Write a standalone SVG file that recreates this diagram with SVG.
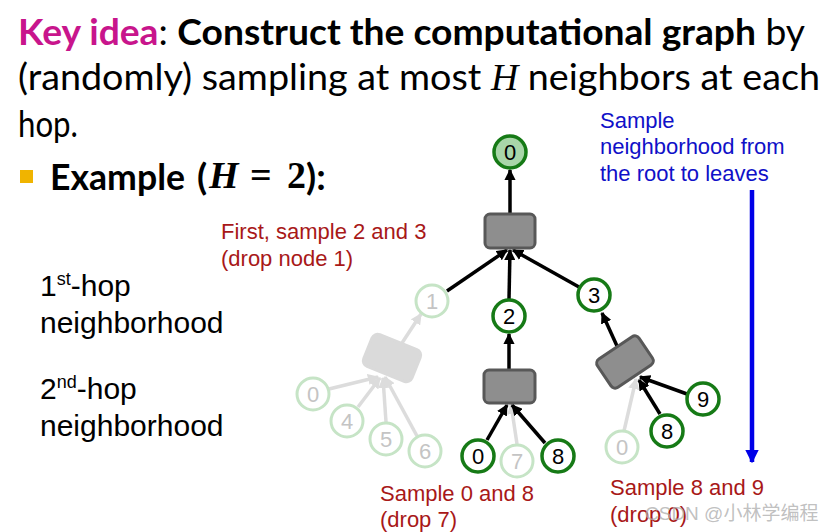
<svg xmlns="http://www.w3.org/2000/svg" width="830" height="532" viewBox="0 0 830 532">
<defs>
<style>
.title{font-family:Lato,"Open Sans",sans-serif;font-size:37px;fill:#000}
.b{font-weight:bold}
.math{font-family:"Liberation Serif","DejaVu Serif",serif;font-weight:bold;font-size:38px}
.blue{font-family:"Liberation Sans",Arial,sans-serif;font-size:22px;fill:#1010c8}
.red{font-family:"Liberation Sans",Arial,sans-serif;font-size:22px;fill:#a81818}
.side{font-family:"Liberation Sans",Arial,sans-serif;font-size:30px;fill:#000}
.sup{font-size:18px}
.node circle{fill:#fff;stroke:#167a16;stroke-width:3.5}
.node text{font-family:"Liberation Sans",Arial,sans-serif;font-size:22px;fill:#000;text-anchor:middle}
.faded circle{fill:#fff;stroke:#c6e4c6;stroke-width:3}
.faded text{font-family:"Liberation Sans",Arial,sans-serif;font-size:22px;fill:#c4c4c4;text-anchor:middle}
.box rect{fill:#8e8e8e;stroke:#585858;stroke-width:3}
.fbox rect{fill:#dadada;stroke:#dadada;stroke-width:3}
.e{stroke:#000;stroke-width:3.5;fill:none;marker-end:url(#ah)}
.fe{stroke:#dcdcdc;stroke-width:3.5;fill:none;marker-end:url(#fah)}
</style>
<marker id="ah" viewBox="0 0 10 10" refX="9" refY="5" markerWidth="3.2" markerHeight="3.2" orient="auto" markerUnits="strokeWidth">
<path d="M0,0 L10,5 L0,10 Z" fill="#000"/>
</marker>
<marker id="fah" viewBox="0 0 10 10" refX="9" refY="5" markerWidth="3.2" markerHeight="3.2" orient="auto" markerUnits="strokeWidth">
<path d="M0,0 L10,5 L0,10 Z" fill="#dcdcdc"/>
</marker>
<marker id="bah" viewBox="0 0 10 10" refX="9" refY="5" markerWidth="3" markerHeight="3" orient="auto" markerUnits="strokeWidth">
<path d="M0,0 L10,5 L0,10 Z" fill="#0000e8"/>
</marker>
</defs>

<g id="title">
<text class="title" x="18" y="45" textLength="787" lengthAdjust="spacingAndGlyphs"><tspan class="b" fill="#c8158c">Key idea</tspan>: <tspan class="b">Construct the computational graph</tspan> by</text>
<text class="title" x="18" y="90" textLength="802" lengthAdjust="spacingAndGlyphs">(randomly) sampling at most <tspan font-family="Liberation Serif,serif" font-style="italic">H</tspan> neighbors at each</text>
<text class="title" x="18" y="137" textLength="60" lengthAdjust="spacingAndGlyphs">hop.</text>
<rect x="20" y="170" width="13" height="13" fill="#f0b400"/>
<text class="title b" x="50" y="190" textLength="135" lengthAdjust="spacingAndGlyphs">Example</text>
<text class="title b" x="197" y="190">(</text>
<text class="math" x="209" y="188" font-style="italic">H</text>
<text class="math" x="250" y="188">=</text>
<text class="math" x="287" y="188">2</text>
<text class="title b" x="306" y="190">):</text>
</g>

<g id="side-labels">
<text class="side" x="40" y="296">1<tspan class="sup" dy="-11">st</tspan><tspan dy="11">-hop</tspan></text>
<text class="side" x="40" y="333">neighborhood</text>
<text class="side" x="40" y="399">2<tspan class="sup" dy="-11">nd</tspan><tspan dy="11">-hop</tspan></text>
<text class="side" x="40" y="436">neighborhood</text>
</g>

<g id="annotations">
<text class="blue" x="600" y="128">Sample</text>
<text class="blue" x="600" y="154">neighborhood from</text>
<text class="blue" x="600" y="181">the root to leaves</text>
<text class="red" x="221" y="239">First, sample 2 and 3</text>
<text class="red" x="221" y="266">(drop node 1)</text>
<text class="red" x="380" y="501">Sample 0 and 8</text>
<text class="red" x="380" y="527">(drop 7)</text>
<text class="red" x="610" y="495">Sample 8 and 9</text>
<text class="red" x="610" y="522">(drop 0)</text>
</g>

<g id="connectors">
<line class="fe" x1="402" y1="343" x2="421" y2="314"/>
<line class="fe" x1="329" y1="389" x2="378" y2="377"/>
<line class="fe" x1="358" y1="407" x2="380" y2="378"/>
<line class="fe" x1="386" y1="422" x2="383" y2="378"/>
<line class="fe" x1="417" y1="436" x2="385" y2="377"/>
<line class="fe" x1="517" y1="444" x2="511" y2="404"/>
<line class="fe" x1="624" y1="431" x2="636" y2="379"/>
<line class="e" x1="510" y1="213" x2="510" y2="170"/>
<line class="e" x1="447" y1="291" x2="507" y2="250"/>
<line class="e" x1="509" y1="299" x2="510" y2="250"/>
<line class="e" x1="579" y1="287" x2="513" y2="250"/>
<line class="e" x1="509" y1="369" x2="509" y2="334"/>
<line class="e" x1="487" y1="440" x2="507" y2="405"/>
<line class="e" x1="545" y1="443" x2="512" y2="405"/>
<line class="e" x1="617" y1="346" x2="602" y2="313"/>
<line class="e" x1="687" y1="394" x2="640" y2="377"/>
<line class="e" x1="660" y1="414" x2="639" y2="380"/>
<line x1="752" y1="190" x2="752" y2="462" stroke="#0000e8" stroke-width="4.5" marker-end="url(#bah)"/>
</g>

<g id="faded-box" class="fbox"><rect x="366" y="341" width="52" height="34" rx="6" transform="rotate(22 392 358)"/></g>
<g id="box-top" class="box"><rect x="485" y="214" width="50" height="34" rx="5"/></g>
<g id="box-2" class="box"><rect x="484" y="370" width="51" height="33" rx="5"/></g>
<g id="box-3" class="box"><rect x="600" y="345" width="50" height="34" rx="5" transform="rotate(-34 625 362)"/></g>

<g id="n0-root" class="node"><circle cx="510" cy="152" r="16" style="fill:#a9d6a9"/><text x="510" y="160">0</text></g>
<g id="n1" class="faded"><circle cx="432" cy="301" r="16"/><text x="432" y="309">1</text></g>
<g id="n2" class="node"><circle cx="509" cy="316" r="16"/><text x="509" y="324">2</text></g>
<g id="n3" class="node"><circle cx="594" cy="295" r="16"/><text x="594" y="303">3</text></g>
<g id="f0" class="faded"><circle cx="313" cy="394" r="16"/><text x="313" y="402">0</text></g>
<g id="f4" class="faded"><circle cx="347" cy="421" r="16"/><text x="347" y="429">4</text></g>
<g id="f5" class="faded"><circle cx="386" cy="439" r="16"/><text x="386" y="447">5</text></g>
<g id="f6" class="faded"><circle cx="425" cy="451" r="16"/><text x="425" y="459">6</text></g>
<g id="b0" class="node"><circle cx="478" cy="456" r="16"/><text x="478" y="464">0</text></g>
<g id="b7" class="faded"><circle cx="517" cy="461" r="16"/><text x="517" y="469">7</text></g>
<g id="b8" class="node"><circle cx="558" cy="456" r="16"/><text x="558" y="464">8</text></g>
<g id="c9" class="node"><circle cx="703" cy="399" r="16"/><text x="703" y="407">9</text></g>
<g id="c8" class="node"><circle cx="667" cy="431" r="16"/><text x="667" y="439">8</text></g>
<g id="c0" class="faded"><circle cx="622" cy="447" r="16"/><text x="622" y="455">0</text></g>

<g id="watermark"><text x="645" y="520" font-family="'Liberation Sans','Noto Sans CJK SC',sans-serif" font-size="19" fill="#b0b0b0" fill-opacity="0.8">CSDN @小林学编程</text></g>
</svg>
